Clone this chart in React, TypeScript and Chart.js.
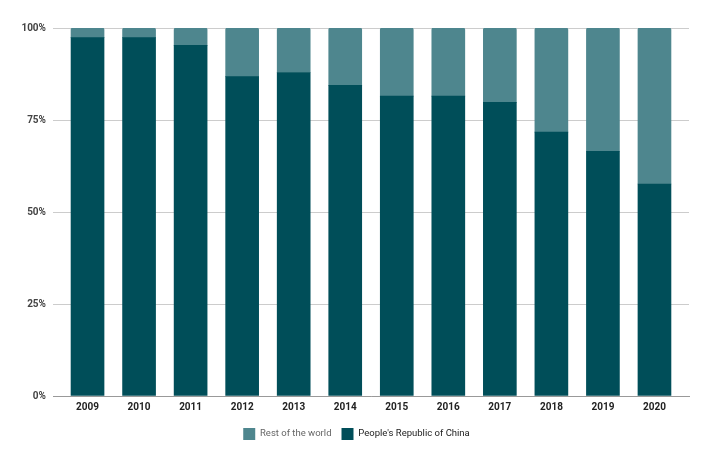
import React, { useEffect, useRef } from "react";
import { Chart, registerables } from "chart.js";

Chart.register(...registerables);

const categories = ["2009", "2010", "2011", "2012", "2013", "2014", "2015", "2016", "2017", "2018", "2019", "2020"];
const chinaShare = [97.4, 97.4, 95.3, 86.8, 87.9, 84.4, 81.5, 81.5, 79.8, 71.7, 66.5, 57.6];
const restShare = [2.6, 2.6, 4.7, 13.2, 12.1, 15.6, 18.5, 18.5, 20.2, 28.3, 33.5, 42.4];
const yTicks = [0, 25, 50, 75, 100];
const legendTextColors = ["#666666", "#222222"];

const shiftLegend = {
  id: "shiftLegend",
  afterLayout(chart: any) {
    if (chart.legend) {
      chart.legend.left += 12;
      chart.legend.right += 12;
    }
  },
};

export default function App() {
  const ref = useRef<HTMLCanvasElement>(null);
  useEffect(() => {
    document.body.style.margin = "0";
    const ctx = ref.current!;
    const chart = new Chart(ctx, {
      type: "bar",
      data: {
        datasets: [
          {
            label: "People's Republic of China",
            data: chinaShare.map((v, i) => ({ x: i, y: v })),
            backgroundColor: "#004e59",
            borderColor: "#004e59",
            borderWidth: 0,
            barThickness: 33,
            borderRadius: 0,
          },
          {
            label: "Rest of the world",
            data: restShare.map((v, i) => ({ x: i, y: v })),
            backgroundColor: "#4e868e",
            borderColor: "#4e868e",
            borderWidth: 0,
            barThickness: 33,
            borderRadius: { topLeft: 2, topRight: 2, bottomLeft: 0, bottomRight: 0 },
            borderSkipped: false,
          },
        ],
      },
      plugins: [shiftLegend],
      options: {
        animation: false,
        responsive: false,
        maintainAspectRatio: false,
        layout: { padding: { top: 28, right: 33, left: 0, bottom: 0 } },
        plugins: {
          tooltip: { enabled: false },
          legend: {
            position: "bottom",
            reverse: true,
            labels: {
              boxWidth: 12,
              boxHeight: 12,
              padding: 10,
              color: "#222222",
              font: { family: "Roboto", size: 9.5 },
              generateLabels: (c: any) => {
                const items = Chart.defaults.plugins.legend.labels.generateLabels(c);
                return items.map((it: any) => ({
                  ...it,
                  fontColor: it.datasetIndex === 1 ? legendTextColors[0] : legendTextColors[1],
                  lineWidth: 0,
                }));
              },
            },
          },
        },
        scales: {
          x: {
            type: "linear",
            stacked: true,
            offset: false,
            min: -0.67,
            max: 11.67,
            afterBuildTicks: (scale: any) => {
              scale.ticks = categories.map((_, i) => ({ value: i }));
            },
            ticks: {
              callback: (v: any) => categories[Math.round(Number(v))] ?? "",
              color: "#222222",
              font: { family: "Roboto", size: 10, weight: "bold" },
              maxRotation: 0,
              autoSkip: false,
              padding: 5,
            },
            grid: { display: false, drawTicks: false },
            border: { display: true, color: "#999999", width: 1 },
          },
          y: {
            stacked: true,
            min: 0,
            max: 100,
            afterBuildTicks: (scale: any) => {
              scale.ticks = yTicks.map((v) => ({ value: v }));
            },
            afterFit: (scale: any) => {
              scale.width = 53;
            },
            ticks: {
              callback: (v: any) => v + "%",
              color: "#444444",
              font: { family: "Roboto", size: 10, weight: "bold" },
              padding: 7,
            },
            grid: { color: "#cccccc", drawTicks: false },
            border: { display: false },
          },
        },
      },
    });
    return () => chart.destroy();
  }, []);
  return <canvas ref={ref} width={722} height={450} style={{ display: "block" }} />;
}
